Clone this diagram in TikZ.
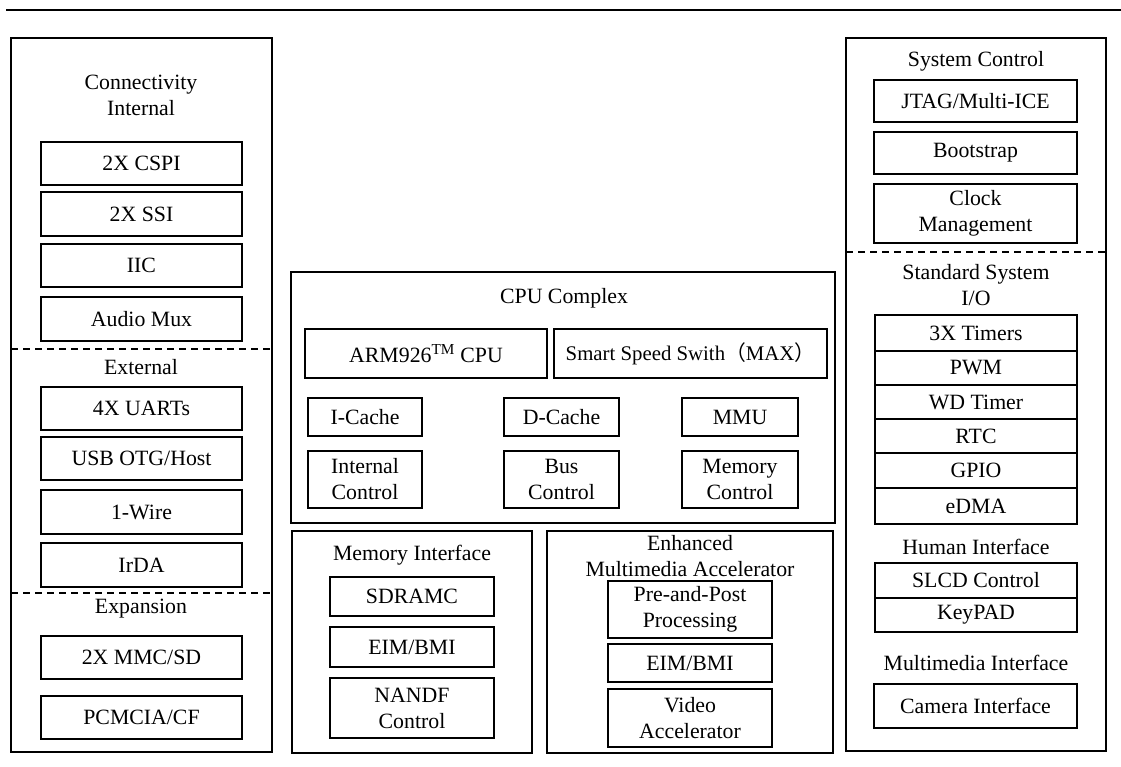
\documentclass[tikz,border=0pt]{standalone}
\usepackage{fontspec}
\setmainfont{Liberation Serif}
\newfontfamily\cjk{Noto Sans CJK SC}
\newcommand\blk[6]{\node[bx,minimum width={#4-#2},minimum height={#5-#3}] (#1) at (#2,#3) {#6};}
\begin{document}
\begin{tikzpicture}[x=1pt,y=-1pt,
  bx/.style={draw,line width=1.2pt,inner sep=0pt,outer sep=0pt,anchor=north west,align=center},
  ttl/.style={inner sep=0pt,align=center},
  dsh/.style={line width=1.2pt,dash pattern=on 7pt off 5pt},
  font=\fontsize{21.8}{26}\selectfont]
\useasboundingbox (0,0) rectangle (1121,767);
% top rule
\coordinate (tl) at (6,10);
\coordinate (tr) at (1121,10);
\draw[line width=1.2pt] (tl) -- (tr);

% ---------------- left panel ----------------
\blk{lp}{11}{38}{272}{752}{}
\node[ttl] (tconn) at (141,95.5) {Connectivity\\Internal};
\blk{cspi}{41}{142}{242}{185}{2X CSPI}
\blk{ssi}{41}{192}{242}{236}{2X SSI}
\blk{iic}{41}{244}{242}{287}{IIC}
\blk{amux}{41}{297}{242}{341}{Audio Mux}
\coordinate (ld1a) at (11,349);
\coordinate (ld1b) at (272,349);
\draw[dsh] (ld1a) -- (ld1b);
\node[ttl] (text) at (141,367) {External};
\blk{uart}{41}{387}{242}{430}{4X UARTs}
\blk{usb}{41}{437}{242}{480}{USB OTG/Host}
\blk{wire}{41}{490}{242}{534}{1-Wire}
\blk{irda}{41}{543}{242}{587}{IrDA}
\coordinate (ld2a) at (11,593);
\coordinate (ld2b) at (272,593);
\draw[dsh] (ld2a) -- (ld2b);
\node[ttl] (texp) at (141,609) {Expansion};
\blk{mmc}{41}{636}{242}{679}{2X MMC/SD}
\blk{pcm}{41}{696}{242}{739}{PCMCIA/CF}

% ---------------- CPU complex ----------------
\blk{cpu}{291}{272}{835}{523}{}
\node[ttl] (tcpu) at (564,298) {CPU Complex};
\blk{arm}{305}{329}{547}{378}{ARM926\textsuperscript{TM} CPU}
\blk{sss}{554}{329}{827}{378}{\fontsize{20.8}{26}\selectfont Smart Speed Swith{\cjk （}MAX{\cjk ）}}
\blk{icache}{308}{398}{422}{436}{I-Cache}
\blk{dcache}{504}{398}{619}{436}{D-Cache}
\blk{mmu}{682}{398}{798}{436}{MMU}
\blk{intctl}{308}{451}{422}{508}{Internal\\Control}
\blk{busctl}{504}{451}{619}{508}{Bus\\Control}
\blk{memctl}{682}{451}{798}{508}{Memory\\Control}

% ---------------- memory interface ----------------
\blk{mif}{292}{531}{532}{753}{}
\node[ttl] (tmif) at (412,555) {Memory Interface};
\blk{sdram}{330}{577}{494}{616}{SDRAMC}
\blk{eima}{330}{627}{494}{667}{EIM/BMI}
\blk{nandf}{330}{678}{494}{738}{NANDF\\Control}

% ---------------- EMA ----------------
\blk{ema}{547}{531}{833}{753}{}
\node[ttl] (tema) at (690,556) {Enhanced\\Multimedia Accelerator};
\blk{prepost}{608}{581}{772}{638}{Pre-and-Post\\Processing}
\blk{eimb}{608}{644}{772}{682}{EIM/BMI}
\blk{video}{608}{689}{772}{747}{Video\\Accelerator}

% ---------------- right panel ----------------
\blk{rp}{846}{38}{1106}{751}{}
\node[ttl] (tsys) at (976,61) {System Control};
\blk{jtag}{874}{80}{1077}{122}{JTAG/Multi-ICE}
\blk{boot}{874}{132}{1077}{174}{Bootstrap}
\blk{clock}{874}{184}{1077}{243}{Clock\\Management}
\coordinate (rda) at (846,252);
\coordinate (rdb) at (1106,252);
\draw[dsh] (rda) -- (rdb);
\node[ttl] (tstd) at (976,285.5) {Standard System\\I/O};
\blk{timers}{875}{315}{1077}{351}{3X Timers}
\blk{pwm}{875}{351}{1077}{385}{PWM}
\blk{wd}{875}{385}{1077}{419}{WD Timer}
\blk{rtc}{875}{419}{1077}{453}{RTC}
\blk{gpio}{875}{453}{1077}{488}{GPIO}
\blk{edma}{875}{488}{1077}{524}{eDMA}
\node[ttl] (thum) at (976,547) {Human Interface};
\blk{slcd}{875}{563}{1077}{598}{SLCD Control}
\blk{keypad}{875}{598}{1077}{632}{KeyPAD}
\node[ttl] (tmm) at (976,663) {Multimedia Interface};
\blk{cam}{874}{684}{1077}{728}{Camera Interface}
\end{tikzpicture}
\end{document}
